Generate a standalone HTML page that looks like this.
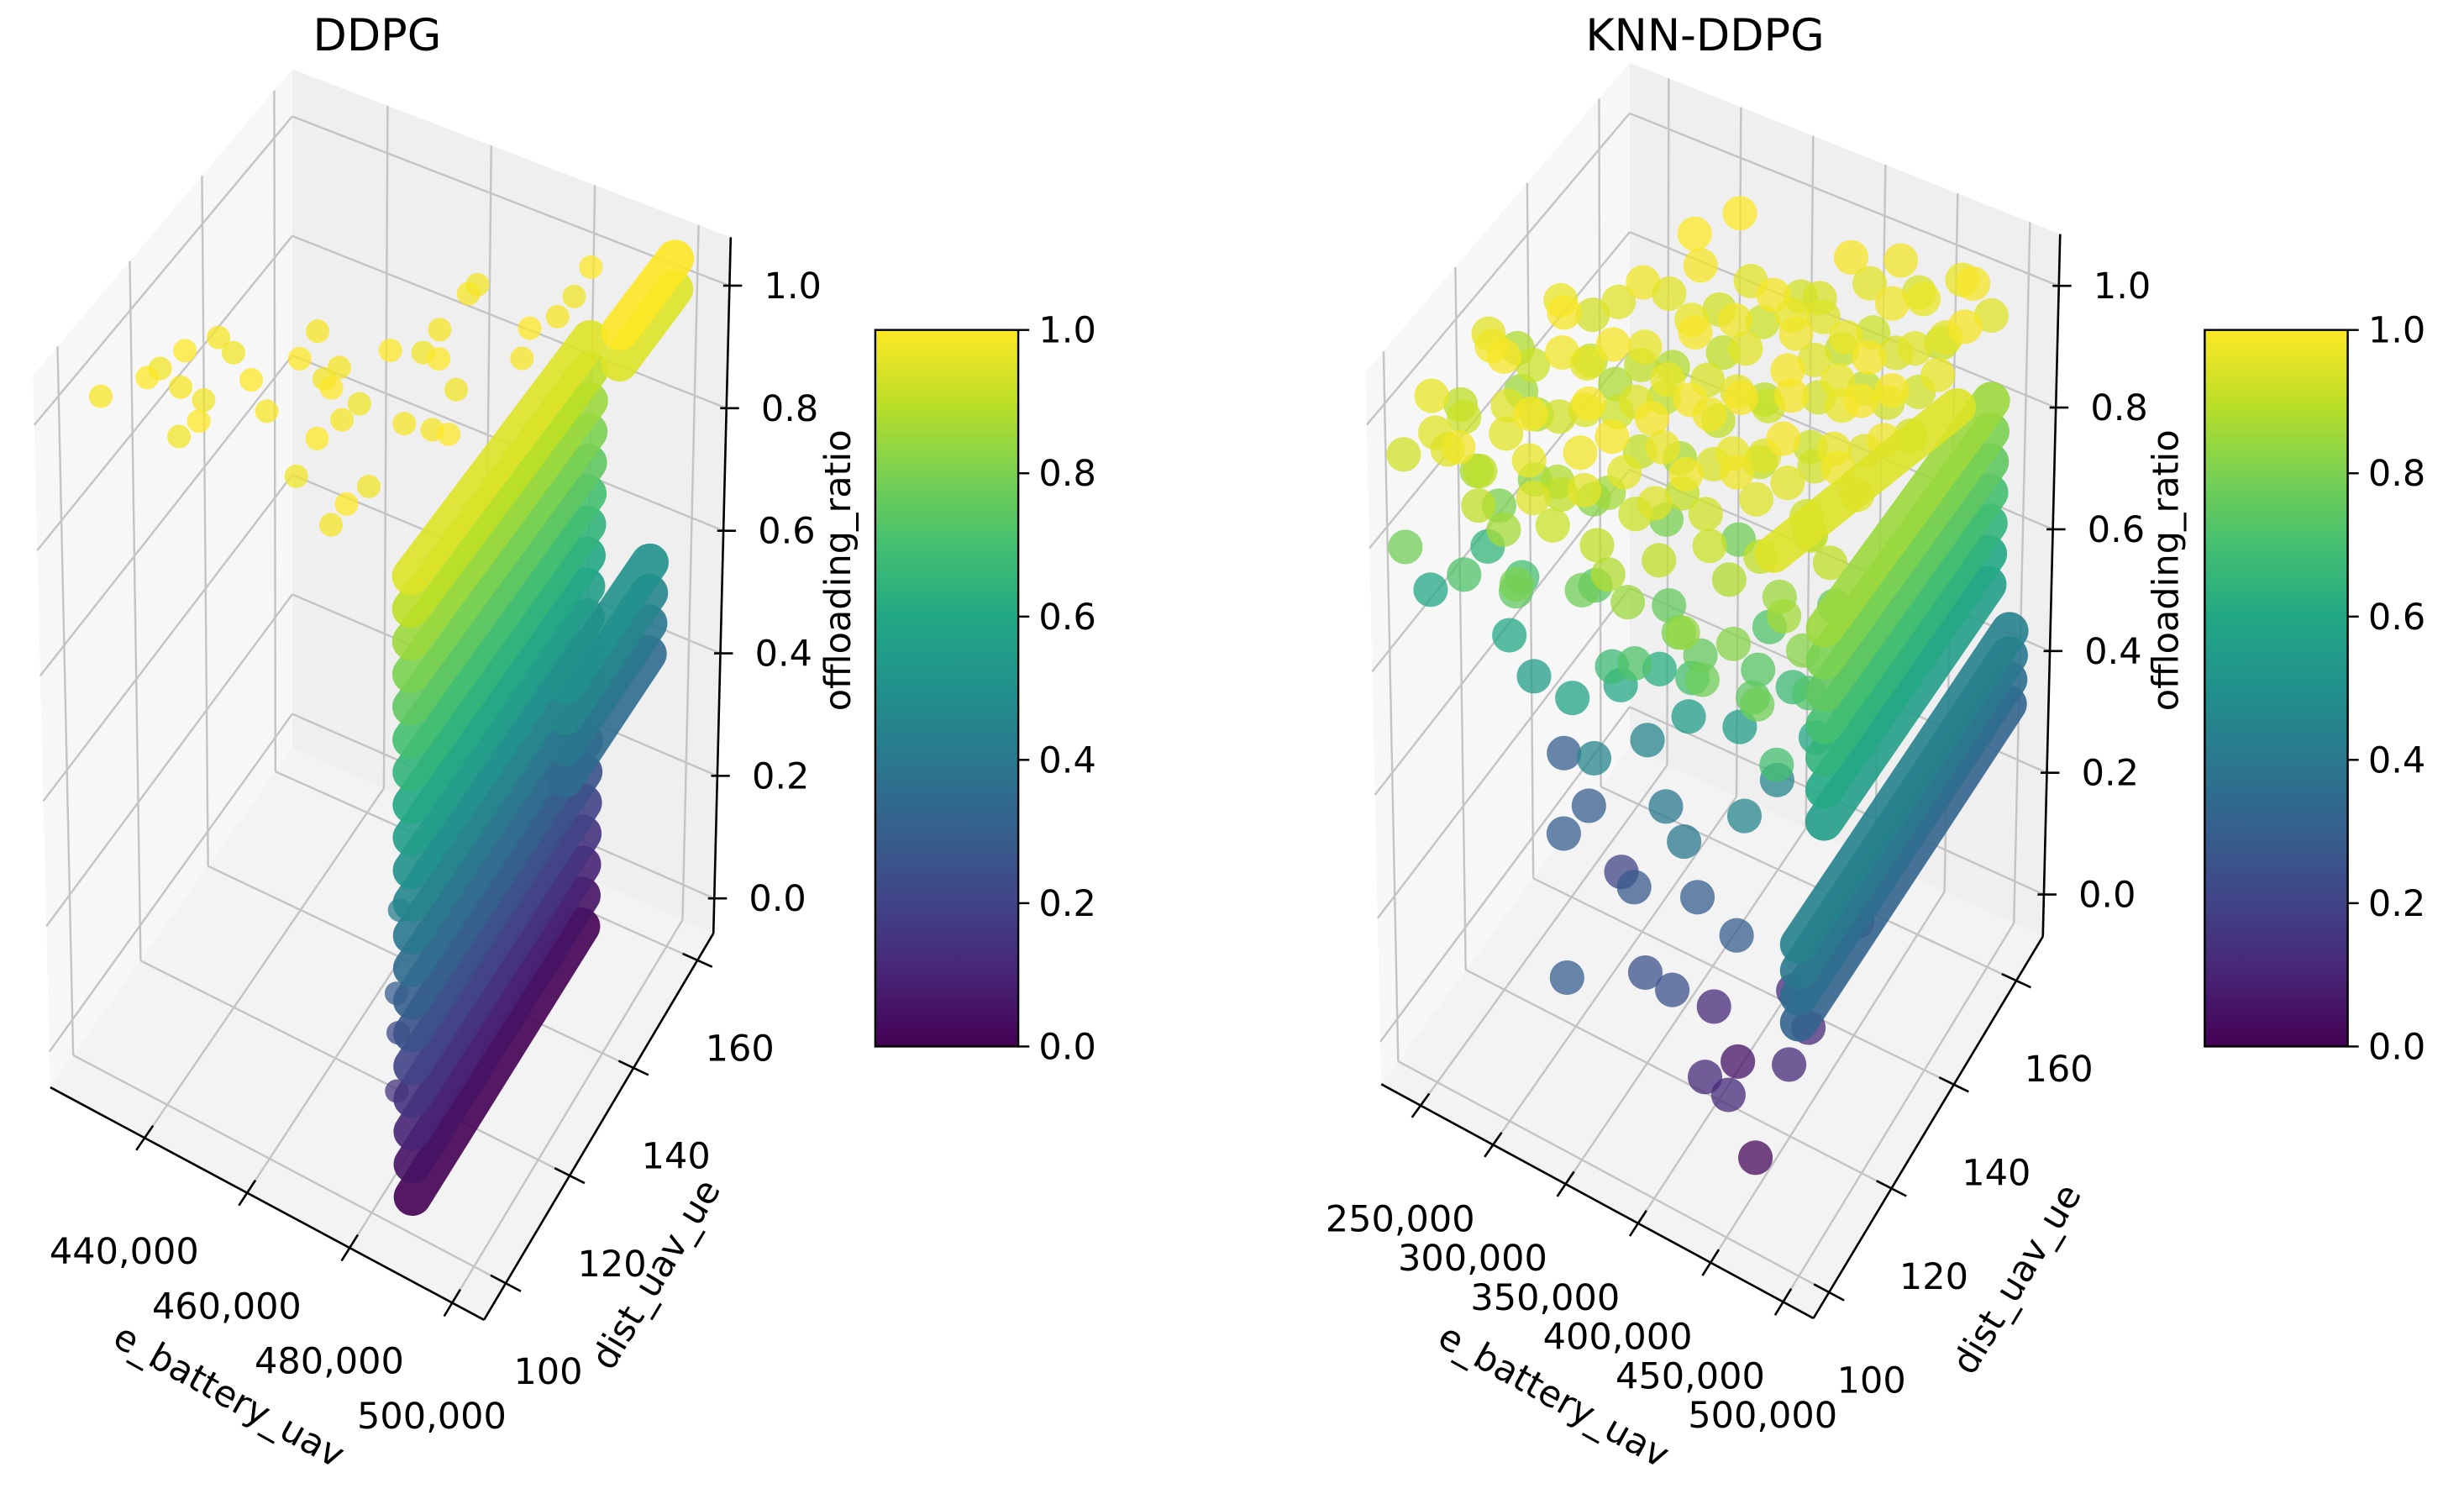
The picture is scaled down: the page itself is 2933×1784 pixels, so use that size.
<!DOCTYPE html>
<html><head><meta charset="utf-8"><title>DDPG vs KNN-DDPG</title>
<style>
html,body{margin:0;padding:0;background:#fff;}
svg{display:block;font-family:"DejaVu Sans","Liberation Sans",sans-serif;}
</style></head>
<body>
<svg id="fig" width="2933" height="1784" viewBox="0 0 1568 954" preserveAspectRatio="none" xmlns="http://www.w3.org/2000/svg">
<defs>
<linearGradient id="viridis" x1="0" y1="1" x2="0" y2="0">
<stop offset="0" stop-color="#440154"/><stop offset="0.1" stop-color="#482475"/><stop offset="0.2" stop-color="#414487"/><stop offset="0.3" stop-color="#355f8d"/><stop offset="0.4" stop-color="#2a788e"/><stop offset="0.5" stop-color="#21918c"/><stop offset="0.6" stop-color="#22a884"/><stop offset="0.7" stop-color="#44bf70"/><stop offset="0.8" stop-color="#7ad151"/><stop offset="0.9" stop-color="#bddf26"/><stop offset="1" stop-color="#fde725"/>
</linearGradient>
</defs>
<g id="left"></g>
<g id="right"></g>
</svg>
<script>
// ---------- data ----------
const zTicks = [0, 0.2, 0.4, 0.6, 0.8, 1.0];
const zTickLabels = ["0.0", "0.2", "0.4", "0.6", "0.8", "1.0"];
const cbarTicks = [0, 0.2, 0.4, 0.6, 0.8, 1.0];
const cbarTickLabels = ["0.0", "0.2", "0.4", "0.6", "0.8", "1.0"];

const ddpgETicks = [440000, 460000, 480000, 500000];
const ddpgDTicks = [100, 120, 140, 160];
const knnETicks = [250000, 300000, 350000, 400000, 450000, 500000];
const knnDTicks = [100, 120, 140, 160];

// scattered points [e_battery_uav (thousands), dist_uav_ue, offloading_ratio]
const ddpgPoints = [
[426.8,104,0.99],[431.2,114.1,0.98],[434.1,116.8,1.0],[436.6,122.5,0.99],[439.8,122,0.98],
[431.9,109.5,1.0],[437,111.3,0.99],[441,111.8,0.98],[446.9,116.5,1.0],[452,113.3,0.99],
[441.7,103.8,0.98],[444.2,105.7,1.0],[450.1,130.5,0.99],[451.4,123.5,1.0],[455.8,123.9,0.98],
[457.4,125.8,0.99],[459.3,120.7,1.0],[463.7,122.1,0.98],[463.7,117.1,0.99],[463,111.1,1.0],
[462.8,105.4,0.98],[473.9,98.6,0.99],[474.5,102.1,1.0],[474.3,108.8,0.98],[473.1,120.8,0.99],
[463.5,131.2,1.0],[467.1,135.2,0.98],[467.6,139.2,0.99],[471.5,133.1,1.0],[476.1,131.2,0.98],
[477.8,121.7,0.99],[481.4,121,1.0],[467.7,147.3,0.99],[467.3,150.5,0.98],[481.3,144.5,1.0],
[483.4,149.4,0.99],[482.9,155,0.98],[483.4,159,1.0],[482.9,139.9,0.99],
[485,101,0.42],[485,100,0.3],[484,102,0.22],[485,100,0.15]
];
// dense sheets drawn as runs of overlapping markers [e0, d0, e1, d1, ratio]
const ddpgBands = [
[488000,100,488000,152,0.00],[488000,100,488000,152,0.05],[488000,100,488000,152,0.10],
[488000,100,488000,152,0.15],[488000,100,488000,152,0.20],[488000,100,488000,152,0.25],
[488000,100,488000,152,0.30],[488000,100,488000,152,0.35],[488000,100,488000,152,0.40],
[488000,100,488000,152,0.45],[488000,100,488000,152,0.50],[488000,100,488000,152,0.55],
[488000,100,488000,152,0.60],[488000,100,488000,152,0.65],[488000,100,488000,152,0.70],
[488000,100,488000,152,0.75],[488000,100,488000,152,0.80],[488000,100,488000,152,0.85],
[488000,100,488000,152,0.90],[488000,100,488000,152,0.95],
[492000,140,492000,165,0.35],[492000,140,492000,165,0.40],[492000,140,492000,165,0.45],[492000,140,492000,165,0.50],
[495000,150,495000,166,0.95],[495000,150,495000,166,1.00]
];

const knnPoints = [
[235,100,0.93],[235,108,0.97],[235,116,0.9],[235,124,0.96],[235,132,0.88],[235,100,0.78],
[260,102,0.95],[260,110,0.86],[260,118,0.99],[260,126,0.92],[260,134,0.97],[260,106,0.72],
[285,100,0.9],[285,108,0.96],[285,116,0.83],[285,124,0.98],[285,132,0.91],[285,140,0.95],[285,112,0.7],
[310,104,0.97],[310,112,0.88],[310,120,0.94],[310,128,0.99],[310,136,0.9],[310,144,0.96],[310,100,0.8],
[335,100,0.92],[335,108,0.98],[335,116,0.86],[335,124,0.95],[335,132,0.9],[335,140,0.97],[335,148,0.93],[335,112,0.74],
[360,102,0.9],[360,110,0.96],[360,118,0.99],[360,126,0.87],[360,134,0.94],[360,142,0.98],[360,150,0.92],[360,106,0.68],
[385,100,0.85],[385,108,0.95],[385,116,0.91],[385,124,0.98],[385,132,0.96],[385,140,0.89],[385,148,0.97],[385,156,0.94],[385,112,0.76],
[410,104,0.8],[410,112,0.93],[410,120,0.97],[410,128,0.9],[410,136,0.99],[410,144,0.95],[410,152,0.91],[410,160,0.96],[410,108,0.7],
[435,100,0.78],[435,108,0.88],[435,116,0.95],[435,124,0.99],[435,132,0.92],[435,140,0.97],[435,148,0.9],[435,156,0.98],[435,164,0.94],[435,120,0.72],
[460,104,0.75],[460,112,0.85],[460,120,0.92],[460,128,0.97],[460,136,0.99],[460,144,0.93],[460,152,0.96],[460,160,0.91],[460,166,0.97],[460,116,0.68],
[485,100,0.7],[485,108,0.82],[485,116,0.9],[485,124,0.95],[485,132,0.98],[485,140,0.93],[485,148,0.97],[485,156,0.99],[485,164,0.95],
[247,104,0.95],[247,112,0.92],[247,120,0.98],[247,128,0.85],
[272,100,0.98],[272,106,0.9],[272,114,0.95],[272,122,0.88],[272,130,0.99],[272,138,0.93],
[297,102,0.86],[297,110,0.99],[297,118,0.93],[297,126,0.96],[297,134,0.87],[297,142,0.98],
[322,100,0.95],[322,108,0.9],[322,116,0.99],[322,124,0.92],[322,132,0.97],[322,140,0.88],[322,148,0.99],
[347,104,0.96],[347,112,0.99],[347,120,0.91],[347,128,0.97],[347,136,0.99],[347,144,0.9],[347,152,0.96],
[372,100,0.88],[372,108,0.92],[372,116,0.97],[372,124,0.99],[372,132,0.9],[372,140,0.96],[372,148,0.99],[372,156,0.93],
[397,104,0.9],[397,112,0.98],[397,120,0.94],[397,128,0.99],[397,136,0.92],[397,144,0.98],[397,152,0.95],[397,160,0.99],
[422,100,0.84],[422,108,0.92],[422,116,0.98],[422,124,0.95],[422,132,0.99],[422,140,0.93],[422,148,0.97],[422,156,0.92],[422,164,0.98],
[447,104,0.82],[447,112,0.9],[447,120,0.96],[447,128,0.93],[447,136,0.97],[447,144,0.99],[447,152,0.94],[447,160,0.97],
[472,100,0.78],[472,108,0.86],[472,116,0.93],[472,124,0.98],[472,132,0.95],[472,140,0.99],[472,148,0.93],[472,156,0.96],[472,164,0.99],
[300,104,0.75],[340,106,0.78],[380,104,0.72],[420,106,0.76],[450,110,0.74],[270,112,0.8],
[320,118,0.82],[360,122,0.8],[400,126,0.78],[440,130,0.8],[470,124,0.76],[480,112,0.72],
[323,158.8,1.0],[308.2,152,1.0],
[219.3,113.2,0.6],[243,119.7,0.65],[276.8,111.6,0.6],[292.9,111.8,0.55],[327.8,108.1,0.58],
[352.2,111.8,0.6],[370.7,115.3,0.62],[386.8,116.9,0.55],[416.9,119,0.55],[471.7,117.8,0.6],
[351,120.1,0.45],[330.5,113.1,0.45],[373.4,115.8,0.4],[395.5,111.6,0.4],[428.8,115.2,0.45],[432.7,123.4,0.45],[464,136.5,0.5],
[277.7,126.6,0.3],[310.3,120,0.3],[307.9,113.6,0.3],[358.9,112.5,0.28],[399.6,113.8,0.3],[433.3,110.8,0.3],
[388.3,102.9,0.25],[408.2,102.3,0.25],[362,91,0.3],
[328.4,121.8,0.2],[406.5,115.7,0.12],[426.1,104.2,0.12],[444.3,103.3,0.12],[442.5,124.2,0.12],
[463.1,119.7,0.12],[465.5,112.6,0.12],[453.9,131.5,0.15],[458.9,136.7,0.15],
[457.7,105.6,0.02],[422.6,115.9,0.05]
];
const knnBands = [
[495000,110,495000,160,0.55],[495000,110,495000,160,0.60],[495000,110,495000,160,0.65],
[495000,110,495000,160,0.70],[495000,110,495000,160,0.75],[495000,110,495000,160,0.80],[495000,110,495000,160,0.85],
[500000,100,500000,165,0.32],[500000,100,500000,165,0.36],[500000,100,500000,165,0.40],[500000,100,500000,165,0.44],
[465000,108,503000,146,0.95]
];

// ---------- helpers ----------
const NS = "http://www.w3.org/2000/svg";
const VIR = ["#440154","#482475","#414487","#355f8d","#2a788e","#21918c","#22a884","#44bf70","#7ad151","#bddf26","#fde725"];
function hex(h){return [parseInt(h.slice(1,3),16),parseInt(h.slice(3,5),16),parseInt(h.slice(5,7),16)];}
function viridis(t){t=Math.max(0,Math.min(1,t));const f=t*10,i=Math.min(9,Math.floor(f)),r=f-i;
 const a=hex(VIR[i]),b=hex(VIR[i+1]);return "rgb("+a.map((v,k)=>Math.round(v+(b[k]-v)*r)).join(",")+")";}
function el(tag,attrs,parent){const e=document.createElementNS(NS,tag);for(const k in attrs)e.setAttribute(k,attrs[k]);parent.appendChild(e);return e;}
function fmt(n){return n.toLocaleString("en-US");}

function makeAxes(g, cfg){
 const lerp=(a,b,t)=>[a[0]+(b[0]-a[0])*t,a[1]+(b[1]-a[1])*t];
 function bil(P00,P10,P11,P01,u,v){
  return [(1-u)*(1-v)*P00[0]+u*(1-v)*P10[0]+u*v*P11[0]+(1-u)*v*P01[0],
          (1-u)*(1-v)*P00[1]+u*(1-v)*P10[1]+u*v*P11[1]+(1-u)*v*P01[1]];}
 function P(e,d,z){
  const u=(e-cfg.emin)/(cfg.emax-cfg.emin), v=(d-cfg.dmin)/(cfg.dmax-cfg.dmin), w=(z-cfg.zmin)/(cfg.zmax-cfg.zmin);
  const f=bil(cfg.L,cfg.F,cfg.R,cfg.B,u,v), t=bil(cfg.Lt,cfg.Ft,cfg.Rt,cfg.Bt,u,v);
  return lerp(f,t,w);}
 const E0=cfg.emin,E1=cfg.emax,D0=cfg.dmin,D1=cfg.dmax,Z0=cfg.zmin,Z1=cfg.zmax;
 const poly=(pts)=>pts.map(p=>p[0].toFixed(1)+","+p[1].toFixed(1)).join(" ");
 let p=el("polygon",{points:poly([P(E0,D0,Z0),P(E0,D1,Z0),P(E0,D1,Z1),P(E0,D0,Z1)]),fill:"#f7f7f7"},g);
 
 
 p=el("polygon",{points:poly([P(E0,D1,Z0),P(E1,D1,Z0),P(E1,D1,Z1),P(E0,D1,Z1)]),fill:"#efefef"},g);
 
 
 p=el("polygon",{points:poly([P(E0,D0,Z0),P(E1,D0,Z0),P(E1,D1,Z0),P(E0,D1,Z0)]),fill:"#f3f3f3"},g);
 
 
 const grid=el("g",{stroke:"#c4c4c4","stroke-width":1.3,fill:"none"},g);
 
 
 const line=(a,b,par,attrs)=>{const l=el("line",Object.assign({x1:a[0],y1:a[1],x2:b[0],y2:b[1]},attrs||{}),par);return l;};
 cfg.eTicks.forEach(e=>{line(P(e,D0,Z0),P(e,D1,Z0),grid);line(P(e,D1,Z0),P(e,D1,Z1),grid);});
 cfg.dTicks.forEach(d=>{line(P(E0,d,Z0),P(E1,d,Z0),grid);line(P(E0,d,Z0),P(E0,d,Z1),grid);});
 zTicks.forEach(z=>{line(P(E0,D0,z),P(E0,D1,z),grid);line(P(E0,D1,z),P(E1,D1,z),grid);});
 const ax=el("g",{stroke:"#000","stroke-width":1.4},g);
 
 
 line(P(E0,D0,Z0),P(E1,D0,Z0),ax);
 line(P(E1,D0,Z0),P(E1,D1,Z0),ax);
 line(P(E1,D1,Z0),P(E1,D1,Z1),ax);
 const dd=(D1-D0)*0.035, de=(E1-E0)*0.035;
 const txt=(x,y,s,attrs,name)=>{const t=el("text",Object.assign({x:x,y:y,"font-size":23,fill:"#000"},attrs||{}),g);t.textContent=s;
   
   return t;};
 cfg.eTicks.forEach(e=>{line(P(e,D0-dd,Z0),P(e,D0+dd,Z0),ax);const q=P(e,D0,Z0);
   txt(q[0]-13,q[1]+80,fmt(e),{"text-anchor":"middle"},"e-battery-tick-label");});
 cfg.dTicks.forEach(d=>{line(P(E1-de,d,Z0),P(E1+de,d,Z0),ax);const q=P(E1,d,Z0);
   txt(q[0]+27,q[1]+64,String(d),{"text-anchor":"middle"},"dist-tick-label");});
 zTicks.forEach((z,i)=>{const q=P(E1,D1,z);line([q[0]-4,q[1]],[q[0]+8,q[1]],ax);
   txt(q[0]+22,q[1]+8,zTickLabels[i],{},"z-tick-label");});
 const pts=cfg.points.map(r=>{const e=r[0]*1000;return {e:e,d:r[1],z:r[2],
   depth:(e-E0)/(E1-E0)-(r[1]-D0)/(D1-D0)};}).sort((a,b)=>a.depth-b.depth);
 const sg=el("g",{},g);
 
 
 pts.forEach(o=>{const q=P(o.e,o.d,o.z);
   const c=el("circle",{cx:q[0].toFixed(1),cy:q[1].toFixed(1),r:cfg.rad,fill:viridis(o.z),"fill-opacity":0.75},sg);
   
   });
 const bg=el("g",{},g);
 
 
 cfg.bands.forEach(b=>{const a=P(b[0],b[1],b[4]),c=P(b[2],b[3],b[4]);
   const l=el("line",{x1:a[0],y1:a[1],x2:c[0],y2:c[1],stroke:viridis(b[4]),"stroke-width":24,"stroke-linecap":"round","stroke-opacity":0.9},bg);
   
   });
 txt(cfg.title[1],cfg.title[2],cfg.title[0],{"text-anchor":"middle","font-size":28},"subplot-title");
 txt(0,0,"e_battery_uav",{"text-anchor":"middle",transform:"translate("+cfg.eLab[0]+","+cfg.eLab[1]+") rotate(29)"},"x-axis-title");
 txt(0,0,"dist_uav_ue",{"text-anchor":"middle",transform:"translate("+cfg.dLab[0]+","+cfg.dLab[1]+") rotate(-59)"},"y-axis-title");
 txt(0,0,"offloading_ratio",{"text-anchor":"middle",transform:"translate("+cfg.zLab[0]+","+cfg.zLab[1]+") rotate(-90)"},"z-axis-title");
 const cb=cfg.cbar, cg=el("g",{},g);
 
 
 el("rect",{x:cb[0],y:cb[1],width:cb[2],height:cb[3],fill:"url(#viridis)",stroke:"#000","stroke-width":1.3},cg);
 cbarTicks.forEach((t,i)=>{const y=cb[1]+cb[3]*(1-t);
   el("line",{x1:cb[0]+cb[2],y1:y,x2:cb[0]+cb[2]+7,y2:y,stroke:"#000","stroke-width":1.3},cg);
   txt(cb[0]+cb[2]+13,y+8,cbarTickLabels[i],{},"colorbar-tick-label");});
}

makeAxes(document.getElementById("left"),{
 L:[32,692],F:[308,840],R:[454,594],B:[186,476],Lt:[21,239],Ft:[308,358],Rt:[465,151],Bt:[186,44],
 emin:421600,emax:506200,dmin:93.2,dmax:165,zmin:-0.057,zmax:1.079,rad:7.5,
 eTicks:ddpgETicks,dTicks:ddpgDTicks,points:ddpgPoints,bands:ddpgBands,
 title:["DDPG",240,32],eLab:[142,895],dLab:[424,815],zLab:[541,363],cbar:[557,210,91,456]});
makeAxes(document.getElementById("right"),{
 L:[879,690],F:[1154,839],R:[1300,596],B:[1037,476],Lt:[869,237],Ft:[1154,356],Rt:[1311,149],Bt:[1037,40],
 emin:222900,emax:520900,dmin:95,dmax:168.5,zmin:-0.069,zmax:1.085,rad:11,
 eTicks:knnETicks,dTicks:knnDTicks,points:knnPoints,bands:knnBands,
 title:["KNN-DDPG",1085,32],eLab:[985,895],dLab:[1290,818],zLab:[1386,363],cbar:[1403,210,91,456]});
</script>
</body></html>
